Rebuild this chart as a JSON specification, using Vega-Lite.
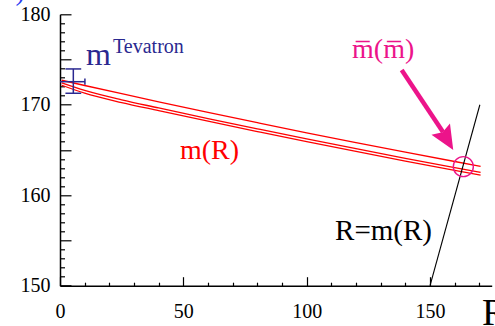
{
  "$schema": "https://vega.github.io/schema/vega-lite/v6.json",
  "autosize": "none",
  "width": 431.7,
  "height": 271.4,
  "padding": {"left": 60, "top": 14.3, "right": 3.3, "bottom": 40.3},
  "background": "white",
  "config": {
    "view": {"stroke": null},
    "axis": {
      "grid": false,
      "title": null,
      "labelFont": "Liberation Serif",
      "labelFontSize": 20,
      "labelColor": "black",
      "domainColor": "black",
      "domainWidth": 1.5,
      "tickColor": "black",
      "tickWidth": 1.2,
      "labelFlush": false,
      "labelOverlap": false
    }
  },
  "datasets": {
    "band": [
      {"x": 0.7, "y": 172.71, "s": "a"}, {"x": 10, "y": 172.13, "s": "a"}, {"x": 25, "y": 171.22, "s": "a"}, {"x": 40, "y": 170.33, "s": "a"}, {"x": 60, "y": 169.16, "s": "a"}, {"x": 80, "y": 168.02, "s": "a"}, {"x": 100, "y": 166.9, "s": "a"}, {"x": 120, "y": 165.82, "s": "a"}, {"x": 140, "y": 164.76, "s": "a"}, {"x": 160, "y": 163.73, "s": "a"}, {"x": 170.5, "y": 163.2, "s": "a"},
      {"x": 0.7, "y": 172.41, "s": "b"}, {"x": 10, "y": 171.58, "s": "b"}, {"x": 25, "y": 170.54, "s": "b"}, {"x": 40, "y": 169.65, "s": "b"}, {"x": 60, "y": 168.48, "s": "b"}, {"x": 80, "y": 167.34, "s": "b"}, {"x": 100, "y": 166.22, "s": "b"}, {"x": 120, "y": 165.14, "s": "b"}, {"x": 140, "y": 164.08, "s": "b"}, {"x": 160, "y": 163.05, "s": "b"}, {"x": 170.5, "y": 162.52, "s": "b"},
      {"x": 0.7, "y": 172.16, "s": "c"}, {"x": 10, "y": 171.28, "s": "c"}, {"x": 25, "y": 170.24, "s": "c"}, {"x": 40, "y": 169.35, "s": "c"}, {"x": 60, "y": 168.18, "s": "c"}, {"x": 80, "y": 167.04, "s": "c"}, {"x": 100, "y": 165.92, "s": "c"}, {"x": 120, "y": 164.84, "s": "c"}, {"x": 140, "y": 163.78, "s": "c"}, {"x": 160, "y": 162.75, "s": "c"}, {"x": 170.5, "y": 162.22, "s": "c"}
    ],
    "diag": [{"x": 150, "y": 150}, {"x": 170.2, "y": 170}],
    "errbar": [
      {"x": 5.4, "x2": 5.4, "y": 171.27, "y2": 173.96},
      {"x": 2.2, "x2": 8.6, "y": 173.96, "y2": 173.96},
      {"x": 2.2, "x2": 8.6, "y": 171.27, "y2": 171.27},
      {"x": 0, "x2": 10.1, "y": 172.55, "y2": 172.55},
      {"x": 10.1, "x2": 10.1, "y": 172.2, "y2": 172.9}
    ],
    "shaft": [{"x": 138.5, "y": 173.85, "x2": 155.25, "y2": 167.0}],
    "head": [{"x": 156.7, "y": 166.23}],
    "ring": [{"x": 163.5, "y": 163.16}],
    "tM": [{"x": 10.5, "y": 174.4, "t": "m"}],
    "tTev": [{"x": 21.5, "y": 175.72, "t": "Tevatron"}],
    "tMbar": [{"x": 131.0, "y": 175.17, "t": "m̅(m̅)"}],
    "tMR": [{"x": 48.6, "y": 163.98, "t": "m(R)"}],
    "tRmR": [{"x": 111.5, "y": 155.06, "t": "R=m(R)"}],
    "tR": [{"x": 171.1, "y": 145.67, "t": "R"}],
    "tCut": [{"x": -16.2, "y": 181.6, "t": ")"}]
  },
  "resolve": {"axis": {"x": "independent", "y": "independent"}},
  "layer": [
    {
      "data": {"name": "band"},
      "mark": {"type": "line", "color": "#ff0000", "strokeWidth": 1.3, "interpolate": "monotone"},
      "encoding": {
        "x": {"field": "x", "type": "quantitative", "scale": {"domain": [0, 175], "nice": false, "zero": false},
              "axis": {"orient": "bottom", "values": [0, 50, 100, 150], "tickSize": -9, "labelPadding": 25}},
        "y": {"field": "y", "type": "quantitative", "scale": {"domain": [150, 180], "nice": false, "zero": false},
              "axis": {"orient": "left", "values": [150, 155, 160, 165, 170, 175, 180], "tickSize": -11, "labelPadding": 21,
                       "labelExpr": "datum.value % 10 == 0 ? datum.label : ''"}},
        "detail": {"field": "s", "type": "nominal"}
      }
    },
    {
      "data": {"name": "diag"},
      "mark": {"type": "line", "color": "black", "strokeWidth": 1.1},
      "encoding": {
        "x": {"field": "x", "type": "quantitative",
              "axis": {"orient": "bottom", "values": [10, 20, 30, 40, 60, 70, 80, 90, 110, 120, 130, 140, 160, 170], "tickSize": -3.5, "labels": false, "domain": false}},
        "y": {"field": "y", "type": "quantitative",
              "axis": {"orient": "left", "values": [151, 152, 153, 154, 156, 157, 158, 159, 161, 162, 163, 164, 166, 167, 168, 169, 171, 172, 173, 174, 176, 177, 178, 179], "tickSize": -4.5, "labels": false, "domain": false}}
      }
    },
    {
      "data": {"name": "errbar"},
      "mark": {"type": "rule", "color": "#2a2890", "strokeWidth": 1.5},
      "encoding": {
        "x": {"field": "x", "type": "quantitative", "axis": null},
        "x2": {"field": "x2"},
        "y": {"field": "y", "type": "quantitative", "axis": null},
        "y2": {"field": "y2"}
      }
    },
    {
      "data": {"name": "shaft"},
      "mark": {"type": "rule", "color": "#ec148a", "strokeWidth": 4.5},
      "encoding": {
        "x": {"field": "x", "type": "quantitative", "axis": null},
        "x2": {"field": "x2"},
        "y": {"field": "y", "type": "quantitative", "axis": null},
        "y2": {"field": "y2"}
      }
    },
    {
      "data": {"name": "head"},
      "mark": {"type": "point", "shape": "M0,-1L0.83,0.87L0,0.6L-0.83,0.87Z", "filled": true, "color": "#ec148a", "opacity": 1, "size": 676, "angle": 149},
      "encoding": {
        "x": {"field": "x", "type": "quantitative", "axis": null},
        "y": {"field": "y", "type": "quantitative", "axis": null}
      }
    },
    {
      "data": {"name": "ring"},
      "mark": {"type": "point", "shape": "circle", "filled": false, "color": "#ec148a", "opacity": 1, "size": 400, "strokeWidth": 1.4},
      "encoding": {
        "x": {"field": "x", "type": "quantitative", "axis": null},
        "y": {"field": "y", "type": "quantitative", "axis": null}
      }
    },
    {
      "data": {"name": "tM"},
      "mark": {"type": "text", "font": "Liberation Serif", "fontSize": 32, "color": "#2a2890", "align": "left", "baseline": "alphabetic"},
      "encoding": {
        "x": {"field": "x", "type": "quantitative", "axis": null},
        "y": {"field": "y", "type": "quantitative", "axis": null},
        "text": {"field": "t"}
      }
    },
    {
      "data": {"name": "tTev"},
      "mark": {"type": "text", "font": "Liberation Serif", "fontSize": 20, "color": "#2a2890", "align": "left", "baseline": "alphabetic"},
      "encoding": {
        "x": {"field": "x", "type": "quantitative", "axis": null},
        "y": {"field": "y", "type": "quantitative", "axis": null},
        "text": {"field": "t"}
      }
    },
    {
      "data": {"name": "tMbar"},
      "mark": {"type": "text", "font": "Liberation Serif", "fontSize": 28, "color": "#ec148a", "align": "center", "baseline": "alphabetic"},
      "encoding": {
        "x": {"field": "x", "type": "quantitative", "axis": null},
        "y": {"field": "y", "type": "quantitative", "axis": null},
        "text": {"field": "t"}
      }
    },
    {
      "data": {"name": "tMR"},
      "mark": {"type": "text", "font": "Liberation Serif", "fontSize": 28, "color": "#ff0000", "align": "left", "baseline": "alphabetic"},
      "encoding": {
        "x": {"field": "x", "type": "quantitative", "axis": null},
        "y": {"field": "y", "type": "quantitative", "axis": null},
        "text": {"field": "t"}
      }
    },
    {
      "data": {"name": "tRmR"},
      "mark": {"type": "text", "font": "Liberation Serif", "fontSize": 29, "color": "black", "align": "left", "baseline": "alphabetic"},
      "encoding": {
        "x": {"field": "x", "type": "quantitative", "axis": null},
        "y": {"field": "y", "type": "quantitative", "axis": null},
        "text": {"field": "t"}
      }
    },
    {
      "data": {"name": "tR"},
      "mark": {"type": "text", "font": "Liberation Serif", "fontSize": 38, "color": "black", "align": "left", "baseline": "alphabetic"},
      "encoding": {
        "x": {"field": "x", "type": "quantitative", "axis": null},
        "y": {"field": "y", "type": "quantitative", "axis": null},
        "text": {"field": "t"}
      }
    },
    {
      "data": {"name": "tCut"},
      "mark": {"type": "text", "font": "Liberation Serif", "fontSize": 28, "color": "#2a3cf0", "align": "center", "baseline": "alphabetic"},
      "encoding": {
        "x": {"field": "x", "type": "quantitative", "axis": null},
        "y": {"field": "y", "type": "quantitative", "axis": null},
        "text": {"field": "t"}
      }
    }
  ]
}
